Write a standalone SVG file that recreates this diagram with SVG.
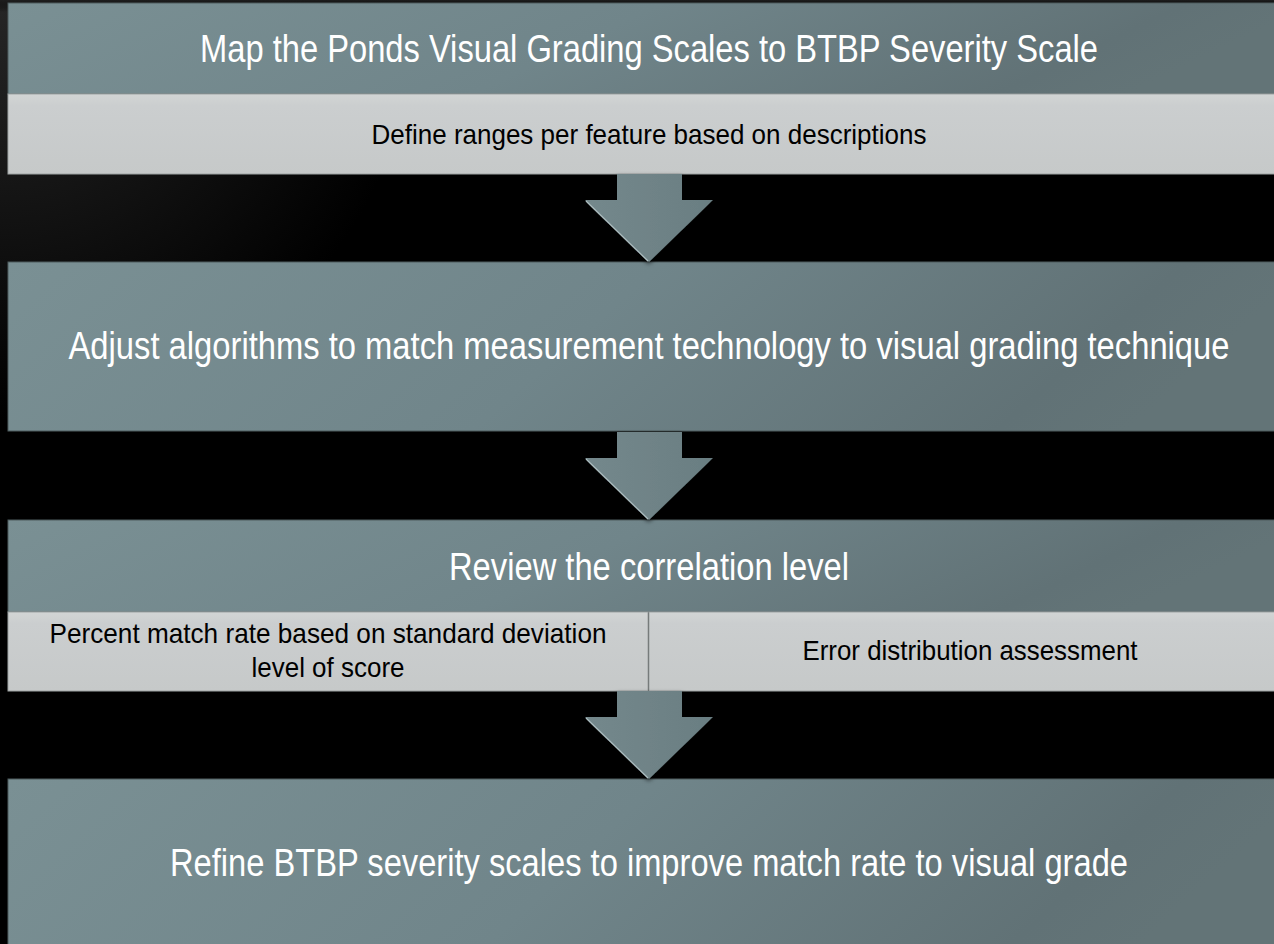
<svg xmlns="http://www.w3.org/2000/svg" width="1274" height="944" viewBox="0 0 1274 944">
  <defs>
    <radialGradient id="bg" cx="0" cy="0" r="420" gradientUnits="userSpaceOnUse">
      <stop offset="0" stop-color="#262626"/>
      <stop offset="1" stop-color="#000000"/>
    </radialGradient>
    <linearGradient id="topbg" x1="0" y1="0" x2="0" y2="1">
      <stop offset="0" stop-color="#1e1e1e"/>
      <stop offset="1" stop-color="#000000" stop-opacity="0"/>
    </linearGradient>
    <linearGradient id="boxg" x1="0" y1="0" x2="1" y2="0.15">
      <stop offset="0" stop-color="#7a9094"/>
      <stop offset="0.5" stop-color="#70858a"/>
      <stop offset="0.9" stop-color="#617276"/>
      <stop offset="1" stop-color="#637477"/>
    </linearGradient>
    <linearGradient id="subg" x1="0" y1="0" x2="0" y2="1">
      <stop offset="0" stop-color="#d2d5d5"/>
      <stop offset="0.15" stop-color="#cbcecf"/>
      <stop offset="1" stop-color="#c6c9c9"/>
    </linearGradient>
    <linearGradient id="arrg" x1="0" y1="0" x2="1" y2="0">
      <stop offset="0" stop-color="#74888c"/>
      <stop offset="1" stop-color="#6a7e82"/>
    </linearGradient>
    <filter id="sh" x="-20%" y="-20%" width="140%" height="140%">
      <feGaussianBlur in="SourceAlpha" stdDeviation="2"/>
      <feOffset dx="0" dy="2" result="b"/>
      <feFlood flood-color="#000" flood-opacity="0.6"/>
      <feComposite in2="b" operator="in"/>
      <feMerge><feMergeNode/><feMergeNode in="SourceGraphic"/></feMerge>
    </filter>
    <g id="arrowshape">
      <polygon points="617,0 682,0 682,26 713,26 649,88 585,26 617,26" fill="url(#arrg)"/>
      <line x1="586" y1="27" x2="648" y2="87" stroke="#aebfc2" stroke-width="1.2"/>
    </g>
  </defs>
  <style>
    .box { stroke: #4e5c5f; stroke-width: 1; fill: url(#boxg); }
    .sub { fill: url(#subg); stroke: #9ea3a3; stroke-width: 1; }
    .title { font-family: "Liberation Sans Narrow", "Arial Narrow", "Liberation Sans", sans-serif; font-size: 38px; fill: #ffffff; text-anchor: middle; }
    .subt { font-family: "Liberation Sans Narrow", "Arial Narrow", "Liberation Sans", sans-serif; font-size: 28px; fill: #000000; text-anchor: middle; }
  </style>

  <rect x="0" y="0" width="1274" height="944" fill="#000"/>
  <rect x="0" y="0" width="1274" height="944" fill="url(#bg)"/>
  <rect x="0" y="0" width="1274" height="12" fill="url(#topbg)"/>

  <g id="node1">
    <rect class="box" x="8" y="3" width="1282" height="91"/>
    <text class="title" x="649" y="62" textLength="898" lengthAdjust="spacingAndGlyphs">Map the Ponds Visual Grading Scales to BTBP Severity Scale</text>
    <rect class="sub" x="8" y="94" width="1282" height="80"/>
    <text class="subt" x="649" y="144" textLength="555" lengthAdjust="spacingAndGlyphs">Define ranges per feature based on descriptions</text>
  </g>

  <g id="node2">
    <rect class="box" x="8" y="262" width="1282" height="169"/>
    <text class="title" x="649" y="359" textLength="1161" lengthAdjust="spacingAndGlyphs">Adjust algorithms to match measurement technology to visual grading technique</text>
  </g>

  <g id="node3">
    <rect class="box" x="8" y="520" width="1282" height="92"/>
    <text class="title" x="649" y="580" textLength="400" lengthAdjust="spacingAndGlyphs">Review the correlation level</text>
    <rect class="sub" x="8" y="612" width="640" height="79"/>
    <text class="subt" x="328" y="643" textLength="557" lengthAdjust="spacingAndGlyphs">Percent match rate based on standard deviation</text>
    <text class="subt" x="328" y="677" textLength="153" lengthAdjust="spacingAndGlyphs">level of score</text>
    <rect class="sub" x="649" y="612" width="641" height="79"/>
    <text class="subt" x="970" y="660" textLength="335" lengthAdjust="spacingAndGlyphs">Error distribution assessment</text>
  </g>

  <g id="node4">
    <rect class="box" x="8" y="779" width="1282" height="180"/>
    <text class="title" x="649" y="876" textLength="958" lengthAdjust="spacingAndGlyphs">Refine BTBP severity scales to improve match rate to visual grade</text>
  </g>

  <g id="connectors">
    <use href="#arrowshape" transform="translate(0,174)" filter="url(#sh)"/>
    <use href="#arrowshape" transform="translate(0,432)" filter="url(#sh)"/>
    <use href="#arrowshape" transform="translate(0,691)" filter="url(#sh)"/>
  </g>
</svg>
